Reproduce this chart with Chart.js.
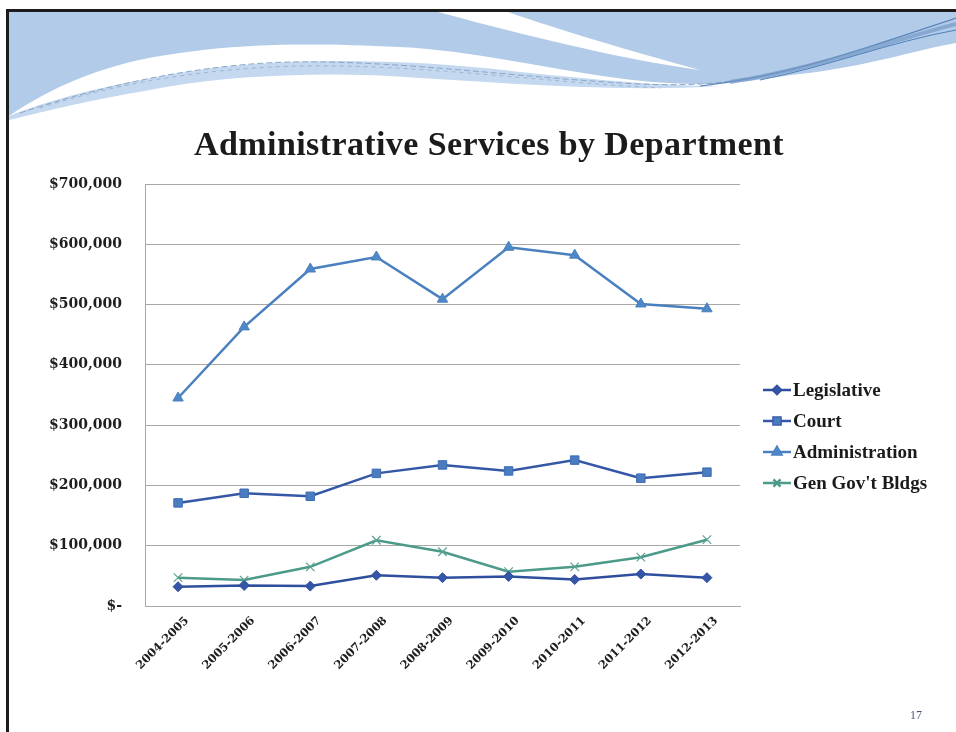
<!DOCTYPE html>
<html>
<head>
<meta charset="utf-8">
<title>Administrative Services by Department</title>
<script src="https://cdn.jsdelivr.net/npm/chart.js@4.4.1/dist/chart.umd.min.js"></script>
<style>
  html, body { margin: 0; padding: 0; background: #fff; }
  #slide { position: relative; width: 956px; height: 732px; overflow: hidden; background: #fff; }
  #frame {
    position: absolute; left: 6px; top: 9px; width: 960px; height: 720px;
    border-left: 3px solid #1c1c1c; border-top: 3px solid #1c1c1c; border-bottom: 1px solid #c8c8c8;
  }
  #waves { position: absolute; left: 0; top: 0; }
  #chart { position: absolute; left: 0; top: 0; }
  #pageNo {
    position: absolute; left: 910px; top: 708px; font: 12px "Liberation Serif", serif; color: #4a5680;
  }
</style>
</head>
<body>
<div id="slide">
  <!-- header swoosh -->
  <svg id="waves" width="956" height="140" viewBox="0 0 956 140">
    <path d="M9,12 H956 V43 C915,50 870,66 800,74 C760,79 740,84 700,84 C600,84 500,52 400,47 C300,42 230,44 160,56 C100,66 50,88 9,116 Z" fill="#b2cbe9"/>
    <path d="M9,116 C60,96 120,82 200,70 C300,56 420,60 520,72 C600,80 660,86 720,86 C620,92 520,84 420,78 C320,70 220,76 150,90 C90,100 50,110 9,120 Z" fill="#c4d8ef"/>
    <path d="M438,12 H508 C560,30 620,48 700,70 C640,62 560,45 438,12 Z" fill="#ffffff"/>
    <path d="M20,113 C100,86 200,64 290,62 C400,60 520,78 640,84 C690,86 720,84 760,76" fill="none" stroke="#8aa6c8" stroke-width="1" stroke-dasharray="6 3"/>
    <path d="M40,108 C120,82 210,68 300,66 C420,64 540,82 660,88" fill="none" stroke="#9fb6d2" stroke-width="1" stroke-dasharray="4 4"/>
    <path d="M700,86 C790,76 860,50 956,18" fill="none" stroke="#5b84b8" stroke-width="1.2"/>
    <path d="M730,82 C810,70 880,44 956,24" fill="none" stroke="#7399c6" stroke-width="4" opacity="0.7"/>
    <path d="M760,80 C830,66 890,42 956,30" fill="none" stroke="#4f7fb8" stroke-width="1"/>
  </svg>
  <div id="frame"></div>
  <canvas id="chart" width="956" height="732"></canvas>
  <div id="pageNo">17</div>
</div>

<script>
// Fiscal years shown on the x axis
const years = ['2004-2005', '2005-2006', '2006-2007', '2007-2008', '2008-2009',
               '2009-2010', '2010-2011', '2011-2012', '2012-2013'];

// Spending per department (dollars)
const legislative    = [32000, 34000, 33000, 51000, 47000, 49000, 44000, 53000, 47000];
const court          = [171000, 187000, 182000, 220000, 234000, 224000, 242000, 212000, 222000];
const administration = [345000, 463000, 559000, 579000, 509000, 595000, 582000, 501000, 493000];
const genGovBldgs    = [47000, 43000, 65000, 109000, 90000, 57000, 65000, 81000, 110000];

const seriesNames = ['Legislative', 'Court', 'Administration', "Gen Gov't Bldgs"];

// y axis range
const yMin = 0;
const yMax = 700000;
const yStep = 100000;

const chartTitle = 'Administrative Services by Department';

function formatDollars(v) {
  if (v === 0) return '$-';
  return '$' + v.toLocaleString('en-US');
}

// title and legend drawn at fixed spots on the slide
const slideDecor = {
  id: 'slideDecor',
  afterDraw(chart) {
    const ctx = chart.ctx;
    ctx.save();
    ctx.fillStyle = '#1b1b1b';
    ctx.font = 'bold 34px "Liberation Serif", serif';
    ctx.letterSpacing = '0.4px';
    ctx.textAlign = 'center';
    ctx.textBaseline = 'middle';
    ctx.fillText(chartTitle, 489, 146);
    ctx.letterSpacing = '0px';

    // legend: short line with the series marker, then the name
    const startY = 390, gap = 31;
    ctx.font = 'bold 19px "Liberation Serif", serif';
    ctx.textAlign = 'left';
    chart.data.datasets.forEach((ds, i) => {
      const y = startY + i * gap;
      ctx.strokeStyle = ds.borderColor;
      ctx.lineWidth = 2.5;
      ctx.beginPath();
      ctx.moveTo(763, y);
      ctx.lineTo(791, y);
      ctx.stroke();
      Chart.helpers.drawPoint(ctx, {
        pointStyle: ds.pointStyle,
        radius: ds.pointRadius - 1,
        borderWidth: ds.pointBorderWidth
      }, 777, y);
      ctx.fillStyle = ds.pointBackgroundColor;
      ctx.strokeStyle = ds.pointBorderColor;
      ctx.fill();
      ctx.fillStyle = '#1b1b1b';
      ctx.fillText(ds.label, 793, y + 1);
    });
    ctx.restore();
  }
};

function series(label, data, line, fill, stroke, style, radius) {
  return {
    label: label,
    data: data,
    borderColor: line,
    borderWidth: 2.5,
    pointStyle: style,
    pointRadius: radius,
    pointHoverRadius: radius,
    pointBackgroundColor: fill,
    pointBorderColor: stroke,
    pointBorderWidth: 1,
    tension: 0,
    fill: false
  };
}

const datasets = [
  series(seriesNames[0], legislative, '#2f4f9e', '#3556a8', '#2f4f9e', 'rectRot', 5),
  series(seriesNames[1], court, '#3457a6', '#4a7cc0', '#3f6db4', 'rect', 6),
  series(seriesNames[2], administration, '#4a80bf', '#4f88c8', '#4a80bf', 'triangle', 6),
  series(seriesNames[3], genGovBldgs, '#4c9a8a', 'rgba(0,0,0,0)', '#5aa292', 'crossRot', 6)
];
datasets[3].pointBorderWidth = 1.2;

new Chart(document.getElementById('chart'), {
  type: 'line',
  data: { labels: years, datasets: datasets },
  options: {
    responsive: false,
    animation: false,
    layout: { padding: { top: 184, right: 216, bottom: 0, left: 0 } },
    plugins: {
      legend: { display: false },
      title: { display: false },
      tooltip: { enabled: false }
    },
    scales: {
      x: {
        offset: true,
        grid: { display: false },
        border: { display: true, color: '#a8a8a8', width: 1 },
        ticks: {
          autoSkip: false,
          minRotation: 45,
          maxRotation: 45,
          padding: 0,
          labelOffset: 9,
          color: '#1e1e1e',
          font: { family: '"DejaVu Serif", serif', size: 11.5, weight: 'bold' }
        },
        afterFit(scale) { scale.height = 126; }
      },
      y: {
        min: yMin,
        max: yMax,
        grid: { color: '#a8a8a8', lineWidth: 1, drawTicks: false },
        border: { display: true, color: '#a8a8a8', width: 1 },
        ticks: {
          stepSize: yStep,
          padding: 23,
          color: '#1e1e1e',
          font: { family: '"DejaVu Serif", serif', size: 14, weight: 'bold' },
          callback: (v) => formatDollars(v)
        },
        afterFit(scale) { scale.width = 145; }
      }
    }
  },
  plugins: [slideDecor]
});
</script>
</body>
</html>
